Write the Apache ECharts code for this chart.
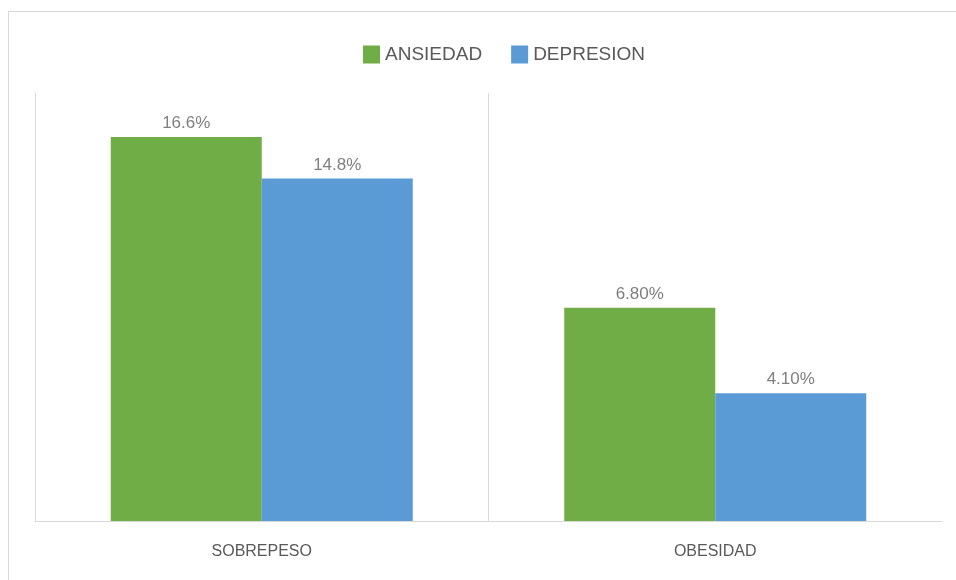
<!DOCTYPE html>
<html>
<head>
<meta charset="utf-8">
<script src="https://cdn.jsdelivr.net/npm/echarts@6/dist/echarts.min.js"></script>
<style>
  body { margin: 0; background: #fff; }
  .frame {
    position: absolute;
    left: 8px;
    top: 11px;
    width: 1100px;
    height: 700px;
    border: 1px solid #d9d9d9;
  }
  #main {
    position: absolute;
    left: 0;
    top: 0;
    width: 956px;
    height: 580px;
  }
</style>
</head>
<body>
<div class="frame"></div>
<div id="main"></div>
<script>
  // categories and series
  var categories = ['SOBREPESO', 'OBESIDAD']
  var seriesNames = ['ANSIEDAD', 'DEPRESION']
  // bar heights as drawn (common scale)
  var ansiedad = [16.6, 9.22]
  var depresion = [14.8, 5.52]
  // label texts printed above the bars
  var ansiedadLabels = ['16.6%', '6.80%']
  var depresionLabels = ['14.8%', '4.10%']

  var chartDom = document.getElementById('main')
  var myChart = echarts.init(chartDom)

  function barLabel(texts) {
    return {
      show: true,
      position: 'top',
      distance: 5,
      color: '#7f7f7f',
      fontSize: 17,
      fontFamily: 'Liberation Sans',
      formatter: function (p) {
        return texts[p.dataIndex]
      },
    }
  }

  var option = {
    animation: false,
    textStyle: { fontFamily: 'Liberation Sans' },
    legend: {
      data: seriesNames,
      left: 358,
      top: 40,
      icon: 'rect',
      itemWidth: 17,
      itemHeight: 18,
      itemGap: 29,
      textStyle: {
        color: '#595959',
        fontSize: 19,
        fontFamily: 'Liberation Sans',
      },
    },
    grid: {
      left: 35,
      right: 14,
      top: 93,
      bottom: 59,
      containLabel: false,
    },
    xAxis: {
      type: 'category',
      data: categories,
      axisTick: { show: false },
      axisLine: { lineStyle: { color: '#d9d9d9', width: 1 } },
      axisLabel: {
        color: '#595959',
        fontSize: 16,
        margin: 23,
      },
      splitLine: {
        show: true,
        showMaxLine: false,
        lineStyle: { color: '#d9d9d9', width: 1 },
      },
    },
    yAxis: {
      type: 'value',
      min: 0,
      max: 18.5,
      axisLine: { show: false },
      axisTick: { show: false },
      axisLabel: { show: false },
      splitLine: { show: false },
    },
    series: [
      {
        name: seriesNames[0],
        type: 'bar',
        data: ansiedad,
        barWidth: 151,
        barGap: '0%',
        itemStyle: { color: '#70ad47' },
        label: barLabel(ansiedadLabels),
      },
      {
        name: seriesNames[1],
        type: 'bar',
        data: depresion,
        barWidth: 151,
        barGap: '0%',
        itemStyle: { color: '#5b9bd5' },
        label: barLabel(depresionLabels),
      },
    ],
  }

  myChart.setOption(option)
</script>
</body>
</html>
